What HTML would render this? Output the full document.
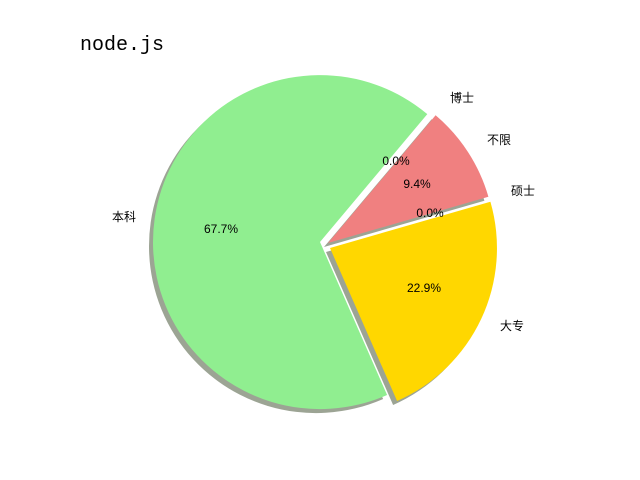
<!DOCTYPE html>
<html><head><meta charset="utf-8"><style>
body{margin:0;background:#fff;}
svg{display:block;}
text{font-family:"Liberation Sans","Noto Sans CJK SC",sans-serif;font-size:12px;fill:#000;}
</style></head><body>
<svg width="640" height="480" viewBox="0 0 640 480">
<rect width="640" height="480" fill="#fff"/>
<g transform="translate(-4,4)" fill="#3a4a2a" fill-opacity="0.5">
<path d="M320,242 L427.3,114.1 A167,167 0 1 0 387.1,395 Z"/>
<path d="M330,248 L397.1,401 A167,167 0 0 0 490.4,201.7 Z"/>
<path d="M328,243 L488.4,196.7 A167,167 0 0 0 435.6,115.3 Z"/>
</g>
<path d="M320,242 L427.3,114.1 A167,167 0 1 0 387.1,395 Z" fill="#90ee90"/>
<path d="M330,248 L397.1,401 A167,167 0 0 0 490.4,201.7 Z" fill="#ffd700"/>
<path d="M328,243 L488.4,196.7 A167,167 0 0 0 435.6,115.3 Z" fill="#f08080"/>
<text x="80" y="50" style="font-size:20px;font-family:'Liberation Mono','Noto Sans CJK SC',monospace">node.js</text>
<text x="112" y="221">本科</text>
<text x="500" y="330">大专</text>
<text x="511" y="195">硕士</text>
<text x="487" y="144">不限</text>
<text x="450" y="102">博士</text>
<g style="font-family:'Liberation Mono',monospace" text-anchor="middle">
<text x="221" y="233">67.7%</text>
<text x="424" y="292">22.9%</text>
<text x="430" y="217">0.0%</text>
<text x="417" y="188">9.4%</text>
<text x="396" y="165">0.0%</text>
</g>
</svg>
</body></html>
